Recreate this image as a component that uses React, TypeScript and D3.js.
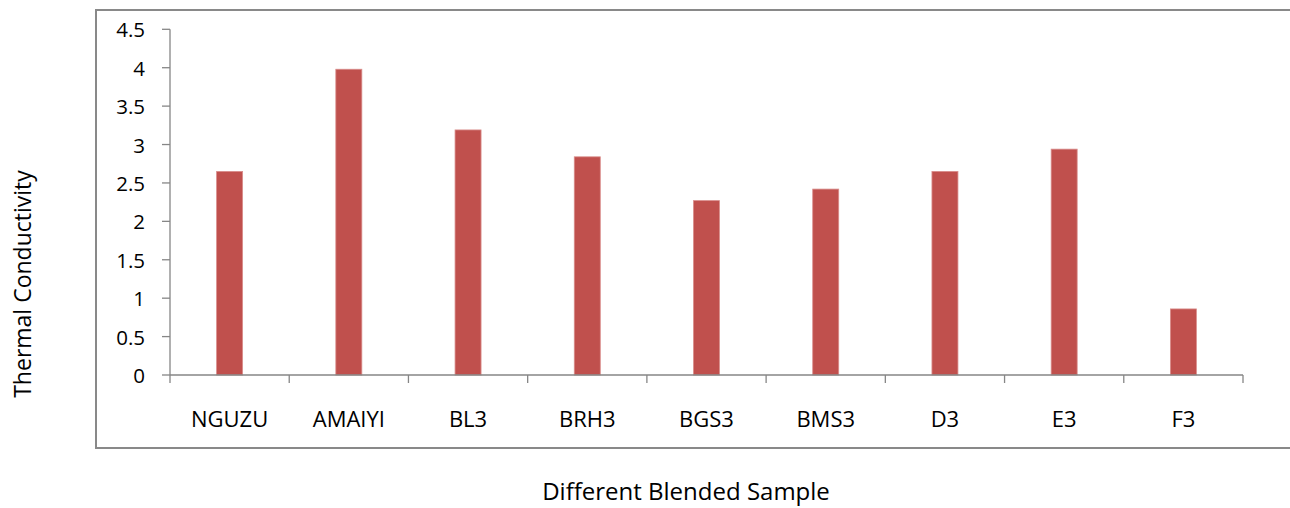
import React from "react";
import * as d3 from "d3";

const categories = ["NGUZU", "AMAIYI", "BL3", "BRH3", "BGS3", "BMS3", "D3", "E3", "F3"];
const conductivity = [2.65, 3.98, 3.19, 2.84, 2.27, 2.42, 2.65, 2.94, 0.86];
const yTicks = [0, 0.5, 1, 1.5, 2, 2.5, 3, 3.5, 4, 4.5];

const W = 1290;
const H = 508;
const FONT = "'Open Sans', 'Noto Sans', sans-serif";
const AXIS = "#868686";
const BAR = "#C0504D";

export default function App() {
  const plot = { left: 170, right: 1243, top: 29.3, bottom: 375 };

  const y = d3.scaleLinear().domain([0, 4.5]).range([plot.bottom, plot.top]);
  const slots = d3.scaleBand<string>().domain(categories).range([plot.left, plot.right]).padding(0);
  const barFrac = 26 / slots.step();
  const x = d3
    .scaleBand<string>()
    .domain(categories)
    .range([plot.left, plot.right])
    .paddingInner(1 - barFrac)
    .paddingOuter((1 - barFrac) / 2);

  const boundaries = [...categories.map((c) => slots(c) as number), plot.right];

  return (
    <svg
      width={W}
      height={H}
      style={{ position: "absolute", left: 0, top: 0, background: "#fff" }}
      fontFamily={FONT}
    >
      {/* outer chart frame */}
      <rect x={96} y={10} width={1210} height={438} fill="none" stroke="#898989" strokeWidth={2} />

      {/* bars */}
      {categories.map((c, i) => (
        <rect
          key={c}
          x={x(c)}
          y={y(conductivity[i])}
          width={x.bandwidth()}
          height={plot.bottom - y(conductivity[i])}
          fill={BAR}
          stroke="#d98d8b"
          strokeWidth={0.8}
        />
      ))}

      {/* y axis */}
      <line x1={plot.left} x2={plot.left} y1={y(4.5)} y2={plot.bottom} stroke={AXIS} strokeWidth={1.3} />
      {yTicks.map((t) => (
        <g key={t}>
          <line x1={plot.left - 8} x2={plot.left} y1={y(t)} y2={y(t)} stroke={AXIS} strokeWidth={1.3} />
          <text
            x={145}
            y={y(t)}
            textAnchor="end"
            dominantBaseline="central"
            fontSize={20.5}
            fill="#000"
          >
            {t}
          </text>
        </g>
      ))}

      {/* x axis */}
      <line x1={plot.left} x2={plot.right} y1={plot.bottom} y2={plot.bottom} stroke={AXIS} strokeWidth={1.3} />
      {boundaries.map((b, i) => (
        <line key={i} x1={b} x2={b} y1={plot.bottom} y2={plot.bottom + 8} stroke={AXIS} strokeWidth={1.3} />
      ))}
      {categories.map((c) => (
        <text
          key={c}
          x={(slots(c) as number) + slots.bandwidth() / 2}
          y={427}
          textAnchor="middle"
          fontSize={22}
          fill="#000"
        >
          {c}
        </text>
      ))}

      {/* axis titles */}
      <text x={686} y={500} textAnchor="middle" fontSize={24} fill="#000">
        Different Blended Sample
      </text>
      <text
        transform={`translate(31, 284) rotate(-90)`}
        textAnchor="middle"
        fontSize={23}
        fill="#000"
      >
        Thermal Conductivity
      </text>
    </svg>
  );
}
